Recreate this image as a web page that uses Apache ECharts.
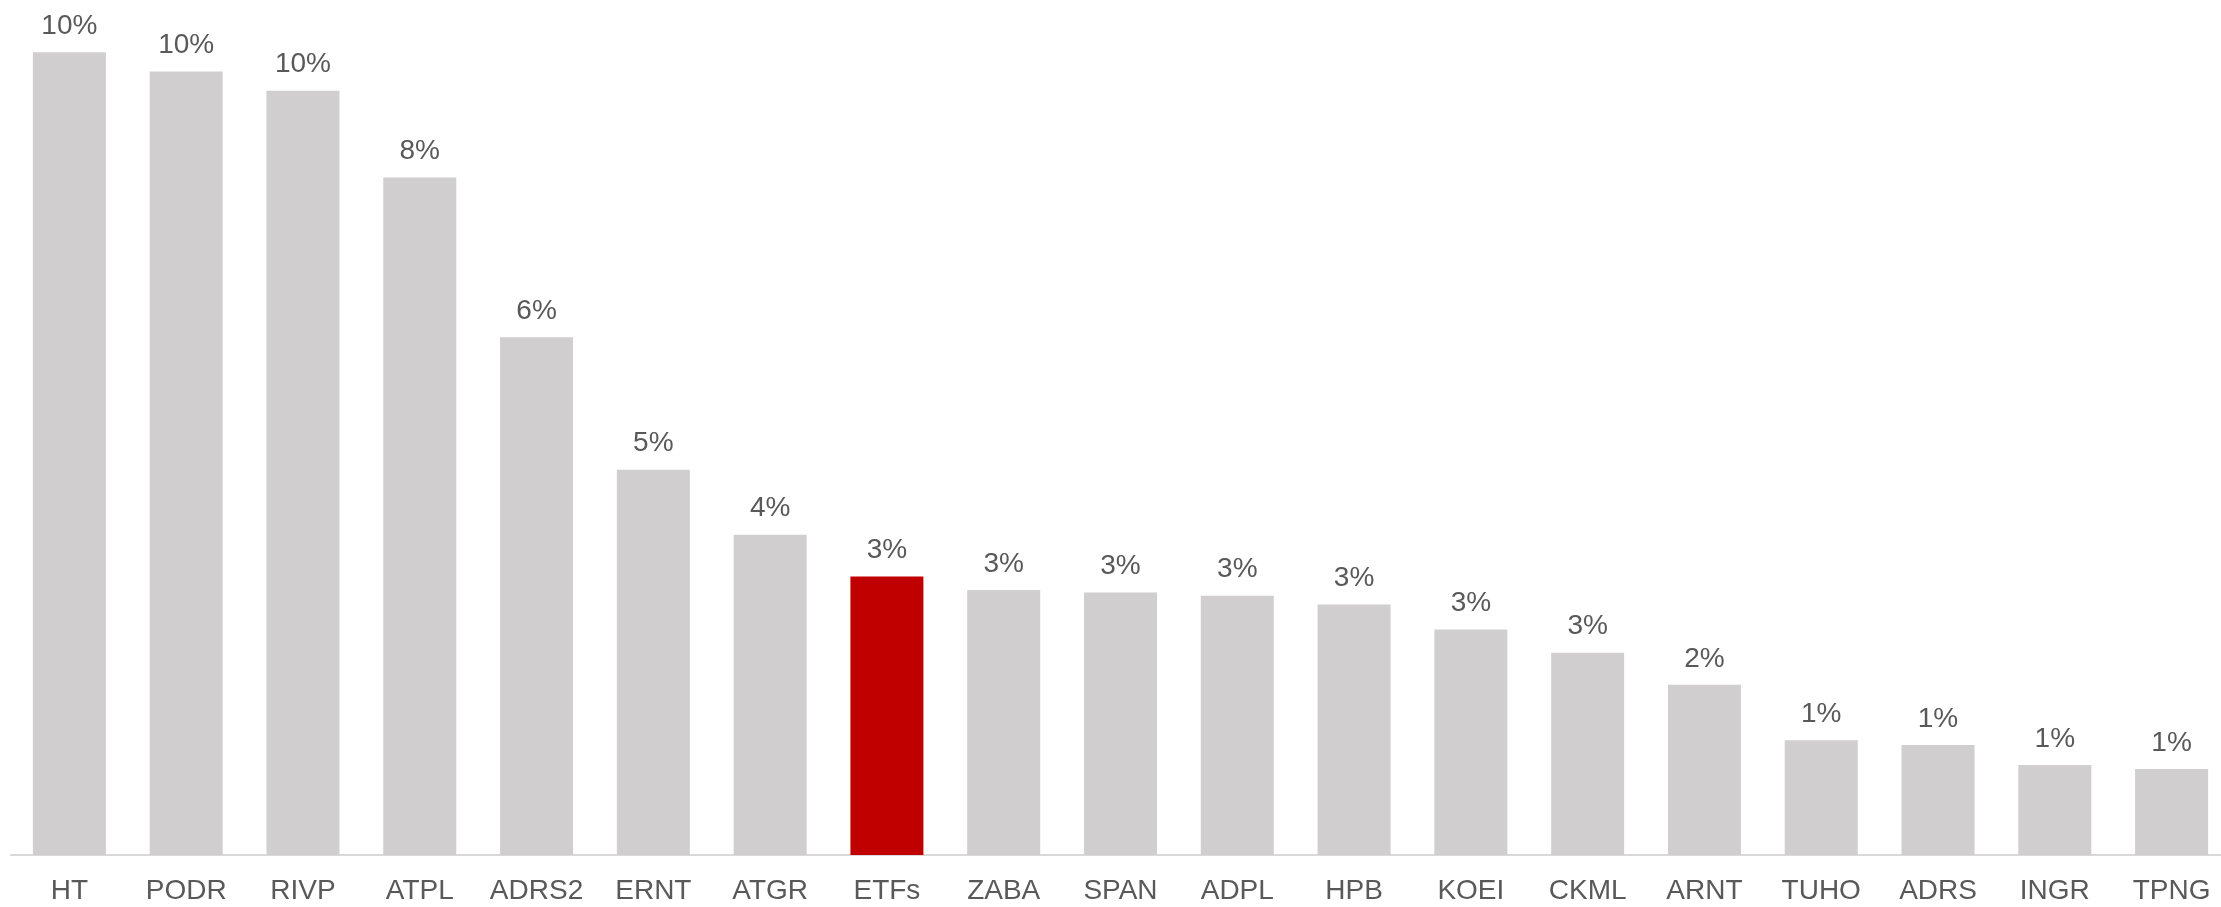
<!DOCTYPE html>
<html>
<head>
<meta charset="utf-8">
<script src="https://cdn.jsdelivr.net/npm/echarts@6/dist/echarts.min.js"></script>
<style>
  html, body { margin: 0; padding: 0; background: #fff; }
  #chart { width: 2221px; height: 907px; }
</style>
</head>
<body>
<div id="chart"></div>
<script>
// tickers, sorted by weight
const categories = ['HT', 'PODR', 'RIVP', 'ATPL', 'ADRS2', 'ERNT', 'ATGR', 'ETFs', 'ZABA', 'SPAN',
  'ADPL', 'HPB', 'KOEI', 'CKML', 'ARNT', 'TUHO', 'ADRS', 'INGR', 'TPNG'];
// weights in percent
const weights = [10.0, 9.76, 9.52, 8.44, 6.45, 4.8, 3.99, 3.47, 3.3, 3.27,
  3.23, 3.12, 2.81, 2.52, 2.12, 1.43, 1.37, 1.12, 1.07];
const highlight = 'ETFs';

const chart = echarts.init(document.getElementById('chart'));
const option = {
  animation: false,
  grid: {
    top: 12,
    bottom: 52,
    left: 11,
    right: -9, // plot runs a bit past the right edge, like the original
    outerBoundsMode: 'none',
    containLabel: false
  },
  xAxis: {
    type: 'category',
    data: categories,
    axisTick: { show: false },
    axisLine: {
      show: true,
      lineStyle: { color: '#d9d9d9', width: 2 }
    },
    axisLabel: {
      color: '#595959',
      fontSize: 28,
      fontFamily: 'Liberation Sans, Arial, sans-serif',
      margin: 22,
      interval: 0
    }
  },
  yAxis: {
    type: 'value',
    min: 0,
    max: 10.5,
    show: false,
    splitLine: { show: false }
  },
  series: [{
    type: 'bar',
    barWidth: 73,
    data: weights.map((v, i) => ({
      value: v,
      itemStyle: { color: categories[i] === highlight ? '#c00000' : '#d0cece' }
    })),
    label: {
      show: true,
      position: 'top',
      distance: 12,
      color: '#595959',
      fontSize: 28,
      fontFamily: 'Liberation Sans, Arial, sans-serif',
      formatter: p => Math.round(p.value) + '%'
    }
  }]
};
chart.setOption(option);
</script>
</body>
</html>
